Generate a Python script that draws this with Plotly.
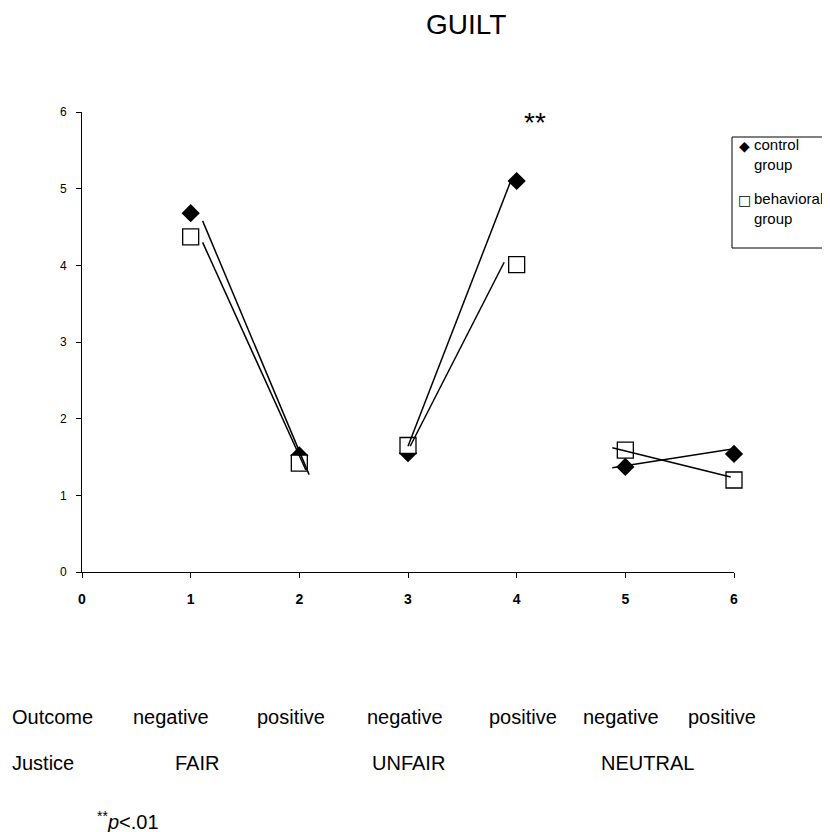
import plotly.graph_objects as go

# ---- data ----
conditions = [1, 2, 3, 4, 5, 6]
control_group = [4.68, 1.52, 1.55, 5.10, 1.37, 1.54]
behavioral_group = [4.37, 1.42, 1.65, 4.01, 1.59, 1.20]

# hand-drawn connecting segments (start/end per pair)
control_seg_x = [[1.11, 2.09], [3.00, 3.94], [4.88, 6.05]]
control_seg_y = [[4.58, 1.27], [1.64, 5.08], [1.36, 1.62]]
behavioral_seg_x = [[1.11, 2.06], [3.02, 3.885], [4.88, 5.97]]
behavioral_seg_y = [[4.30, 1.33], [1.64, 4.04], [1.62, 1.24]]

x_ticks = [0, 1, 2, 3, 4, 5, 6]
y_ticks = [0, 1, 2, 3, 4, 5, 6]

outcome_labels = ["negative", "positive", "negative", "positive", "negative", "positive"]
outcome_pos = [0.82, 1.92, 2.97, 4.06, 4.96, 5.89]
justice_labels = ["FAIR", "UNFAIR", "NEUTRAL"]
justice_pos = [1.06, 3.00, 5.20]

FONT = "Arial, Liberation Sans, sans-serif"

# page body has an 8px margin: lay out in screen pixels, shifted
OFF = 8
W, H = 830, 832
X0, X6 = 82 - OFF, 734 - OFF      # screen px of x=0 / x=6
Y6, Y0 = 112 - OFF, 572 - OFF     # screen px of y=6 / y=0
L, R, T, B = X0, W - X6, Y6, H - Y0
PW, PH = X6 - X0, Y0 - Y6


def px(xp):
    return (xp - OFF - L) / PW


def py(yp):
    return (H - B - (yp - OFF)) / PH


def join_segments(xs, ys):
    ox, oy = [], []
    for sx, sy in zip(xs, ys):
        ox += sx + [None]
        oy += sy + [None]
    return ox, oy


fig = go.Figure()

fig.add_trace(go.Scatter(
    x=conditions, y=control_group, mode="markers", name="control group",
    marker=dict(symbol="diamond", size=14, color="black", line=dict(width=0)),
    cliponaxis=False, showlegend=False))
fig.add_trace(go.Scatter(
    x=conditions, y=behavioral_group, mode="markers", name="behavioral group",
    marker=dict(symbol="square", size=16, color="white", line=dict(width=1.3, color="black")),
    cliponaxis=False, showlegend=False))

cx, cy = join_segments(control_seg_x, control_seg_y)
bx, by = join_segments(behavioral_seg_x, behavioral_seg_y)
fig.add_trace(go.Scatter(x=cx, y=cy, mode="lines", line=dict(color="black", width=1.5),
                         showlegend=False, hoverinfo="skip"))
fig.add_trace(go.Scatter(x=bx, y=by, mode="lines", line=dict(color="black", width=1.5),
                         showlegend=False, hoverinfo="skip"))

TXT = dict(size=20, family=FONT, color="black")
ann = []
ann.append(dict(text="GUILT", x=px(466), y=py(OFF + 0.5), xref="paper", yref="paper",
                showarrow=False, font=dict(size=28, family=FONT, color="black"),
                xanchor="center", yanchor="top", borderpad=0))
ann.append(dict(text="**", x=px(535), y=py(123), xref="paper", yref="paper", showarrow=False,
                font=dict(size=28, family=FONT, color="black"), xanchor="center", yanchor="middle"))

ann.append(dict(text="Outcome", x=px(10), y=py(717), xref="paper", yref="paper",
                showarrow=False, font=TXT, xanchor="left", yanchor="middle"))
for lab, xv in zip(outcome_labels, outcome_pos):
    ann.append(dict(text=lab, x=xv, y=py(717), xref="x", yref="paper", showarrow=False,
                    font=TXT, xanchor="center", yanchor="middle"))
ann.append(dict(text="Justice", x=px(10), y=py(763), xref="paper", yref="paper",
                showarrow=False, font=TXT, xanchor="left", yanchor="middle"))
for lab, xv in zip(justice_labels, justice_pos):
    ann.append(dict(text=lab, x=xv, y=py(763), xref="x", yref="paper", showarrow=False,
                    font=TXT, xanchor="center", yanchor="middle"))
ann.append(dict(text="<sup>**</sup><i>p</i>&lt;.01", x=px(95), y=py(820), xref="paper", yref="paper",
                showarrow=False, font=TXT, xanchor="left", yanchor="middle"))

# legend (manual)
ann.append(dict(text="\u25C6", x=px(744.5), y=py(146), xref="paper", yref="paper", showarrow=False,
                font=dict(size=14, family="DejaVu Sans", color="black"), xanchor="center", yanchor="middle"))
ann.append(dict(text="control<br>group", x=px(752), y=py(154), xref="paper", yref="paper",
                showarrow=False, align="left", font=dict(size=15, family=FONT, color="black"),
                xanchor="left", yanchor="middle"))
ann.append(dict(text="\u25A1", x=px(744.5), y=py(200), xref="paper", yref="paper", showarrow=False,
                font=dict(size=14, family="DejaVu Sans", color="black"), xanchor="center", yanchor="middle"))
ann.append(dict(text="behavioral<br>group", x=px(752), y=py(208), xref="paper", yref="paper",
                showarrow=False, align="left", font=dict(size=15, family=FONT, color="black"),
                xanchor="left", yanchor="middle"))

shapes = [dict(type="rect", xref="paper", yref="paper", x0=px(732), x1=px(828), y0=py(248), y1=py(137),
               line=dict(color="black", width=1), fillcolor="rgba(0,0,0,0)")]

fig.update_layout(
    width=W, height=H, margin=dict(l=L, r=R, t=T, b=B),
    plot_bgcolor="white", paper_bgcolor="white",
    annotations=ann, shapes=shapes, showlegend=False,
    font=dict(family=FONT, color="black"),
)
fig.update_xaxes(range=[0, 6], tickvals=x_ticks, ticktext=[f"<b>{v}</b>" for v in x_ticks],
                 ticks="outside", ticklen=5, tickcolor="black", showline=True, linecolor="black",
                 linewidth=1, showgrid=False, zeroline=False, ticklabelstandoff=9,
                 tickfont=dict(size=14, family=FONT))
fig.update_yaxes(range=[0, 6], tickvals=y_ticks, ticks="outside", ticklen=5, tickcolor="black",
                 showline=True, linecolor="black", linewidth=1, showgrid=False, zeroline=False,
                 ticklabelstandoff=7, tickfont=dict(size=12, family=FONT))

fig.write_html("out.html")
